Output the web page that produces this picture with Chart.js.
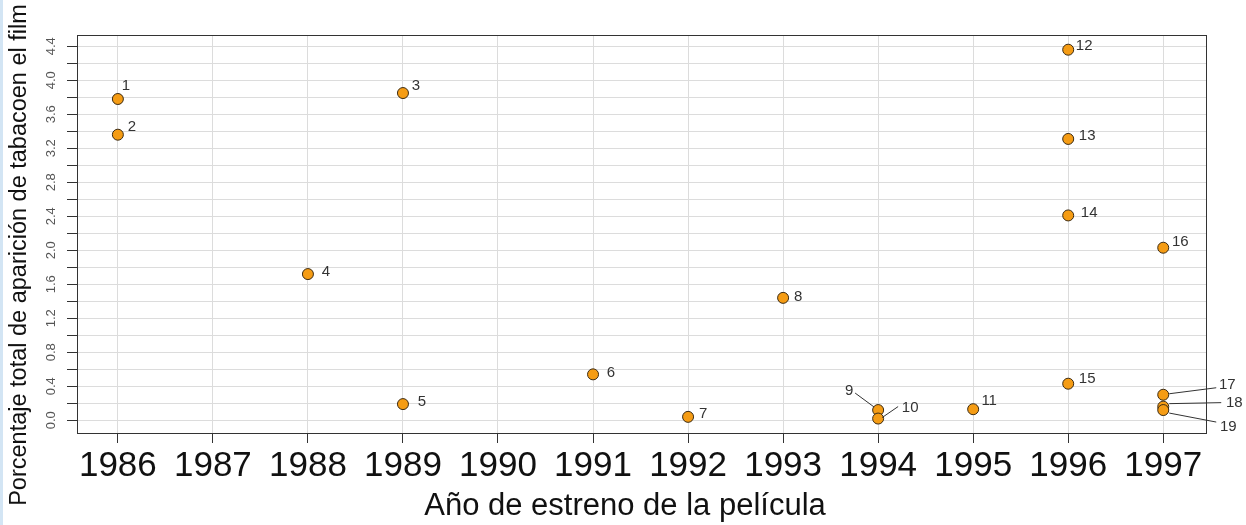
<!DOCTYPE html>
<html>
<head>
<meta charset="utf-8">
<script src="https://cdn.jsdelivr.net/npm/chart.js@4/dist/chart.umd.min.js"></script>
<style>
    html, body { margin: 0; padding: 0; background: #fff; }
    #wrap { position: relative; width: 1246px; height: 525px; }
    #edge { position: absolute; left: 0; top: 0; width: 3px; height: 525px; background: #d3e5f4; }
</style>
</head>
<body>
<div id="wrap">
    <canvas id="chart" width="1246" height="525"></canvas>
    <div id="edge"></div>
</div>
<script>
// Data
const years = [1986, 1986, 1989, 1988, 1989, 1991, 1992, 1993, 1994, 1994, 1995, 1996, 1996, 1996, 1996, 1997, 1997, 1997, 1997];
const percent = [3.78, 3.36, 3.85, 1.72, 0.19, 0.54, 0.04, 1.44, 0.12, 0.02, 0.13, 4.36, 3.31, 2.41, 0.43, 2.03, 0.30, 0.16, 0.12];
const pointNames = ['1', '2', '3', '4', '5', '6', '7', '8', '9', '10', '11', '12', '13', '14', '15', '16', '17', '18', '19'];
const xTicks = [1986, 1987, 1988, 1989, 1990, 1991, 1992, 1993, 1994, 1995, 1996, 1997];
const yTicks = [0, 0.2, 0.4, 0.6, 0.8, 1.0, 1.2, 1.4, 1.6, 1.8, 2.0, 2.2, 2.4, 2.6, 2.8, 3.0, 3.2, 3.4, 3.6, 3.8, 4.0, 4.2, 4.4];
const yTickLabels = ['0.0', '0.4', '0.8', '1.2', '1.6', '2.0', '2.4', '2.8', '3.2', '3.6', '4.0', '4.4'];

const xTitle = 'Año de estreno de la película';
const yTitle = 'Porcentaje total de aparición de tabacoen el film';

// label placement (pixels relative to the point): [dx, dy] for text centre,
// and optional leader line [x1, y1, x2, y2]
const labelOffsets = [
    [8, -13], [14, -8], [13, -7], [18, -2], [19, -2], [18, -1], [15, -3], [15, -1],
    [-29, -19], [32, -11], [16, -8], [16, -4], [19, -3], [21, -3], [19, -5], [17, -6],
    [64, -10], [71, -4], [65, 17]
];
const leaders = {
    8: [-4, -3, -23, -17],
    9: [4, -1, 20, -12],
    16: [6, -1, 53, -7],
    17: [6, -3, 58, -4],
    18: [6, 3, 53, 12]
};

const pointLabelPlugin = {
    id: 'pointLabels',
    afterDatasetsDraw(chart) {
        const ctx = chart.ctx;
        const meta = chart.getDatasetMeta(0);
        ctx.save();
        ctx.font = '15px Arial, "Liberation Sans", sans-serif';
        ctx.fillStyle = '#333';
        ctx.textAlign = 'center';
        ctx.textBaseline = 'middle';
        meta.data.forEach((pt, i) => {
            const off = labelOffsets[i];
            const ld = leaders[i];
            if (ld) {
                ctx.strokeStyle = '#333';
                ctx.lineWidth = 1;
                ctx.beginPath();
                ctx.moveTo(pt.x + ld[0], pt.y + ld[1]);
                ctx.lineTo(pt.x + ld[2], pt.y + ld[3]);
                ctx.stroke();
            }
            ctx.fillText(pointNames[i], pt.x + off[0], pt.y + off[1]);
        });
        ctx.restore();
    }
};

const framePlugin = {
    id: 'frame',
    afterDraw(chart) {
        const ctx = chart.ctx;
        const area = chart.chartArea;
        const yScale = chart.scales.y;
        ctx.save();
        ctx.strokeStyle = '#333';
        ctx.lineWidth = 1;
        ctx.strokeRect(Math.round(area.left) + 0.5, Math.round(area.top) + 0.5,
            Math.round(area.right - area.left), Math.round(area.bottom - area.top));

        // rotated y tick labels, like R's default
        ctx.font = '13px Arial, "Liberation Sans", sans-serif';
        ctx.fillStyle = '#555';
        ctx.textAlign = 'center';
        ctx.textBaseline = 'middle';
        yTickLabels.forEach(t => {
            const py = yScale.getPixelForValue(parseFloat(t));
            ctx.save();
            ctx.translate(51, py);
            ctx.rotate(-Math.PI / 2);
            ctx.fillText(t, 0, 0);
            ctx.restore();
        });

        // axis titles
        ctx.fillStyle = '#111';
        ctx.font = '23.5px Arial, "Liberation Sans", sans-serif';
        ctx.save();
        ctx.translate(20, 255);
        ctx.rotate(-Math.PI / 2);
        ctx.fillText(yTitle, 0, 0);
        ctx.restore();

        ctx.font = '31px Arial, "Liberation Sans", sans-serif';
        ctx.fillText(xTitle, 625, 506);
        ctx.restore();
    }
};

const ctx = document.getElementById('chart').getContext('2d');
const chart = new Chart(ctx, {
    type: 'scatter',
    data: {
        datasets: [{
            data: years.map((x, i) => ({ x: x, y: percent[i] })),
            pointRadius: 5.5,
            pointHoverRadius: 5.5,
            backgroundColor: '#F59C14',
            borderColor: '#3b2a12',
            borderWidth: 1
        }]
    },
    options: {
        responsive: false,
        animation: false,
        layout: { padding: { top: 35, right: 40, left: 0, bottom: 0 } },
        plugins: {
            legend: { display: false },
            tooltip: { enabled: false }
        },
        scales: {
            x: {
                type: 'linear',
                min: 1985.57,
                max: 1997.45,
                afterBuildTicks: s => { s.ticks = xTicks.map(v => ({ value: v })); },
                afterFit: s => { s.height = 92; },
                grid: { color: '#dcdcdc', tickColor: '#333', tickLength: 10 },
                border: { color: '#333' },
                ticks: {
                    autoSkip: false,
                    maxRotation: 0,
                    minRotation: 0,
                    padding: 2,
                    color: '#111',
                    font: { family: 'Arial, "Liberation Sans", sans-serif', size: 35 },
                    callback: v => String(v)
                }
            },
            y: {
                min: -0.15,
                max: 4.533,
                afterBuildTicks: s => { s.ticks = yTicks.map(v => ({ value: v })); },
                afterFit: s => { s.width = 77; },
                grid: { color: '#dcdcdc', tickColor: '#333', tickLength: 10 },
                border: { color: '#333' },
                ticks: { display: false }
            }
        }
    },
    plugins: [pointLabelPlugin, framePlugin]
});
</script>
</body>
</html>
